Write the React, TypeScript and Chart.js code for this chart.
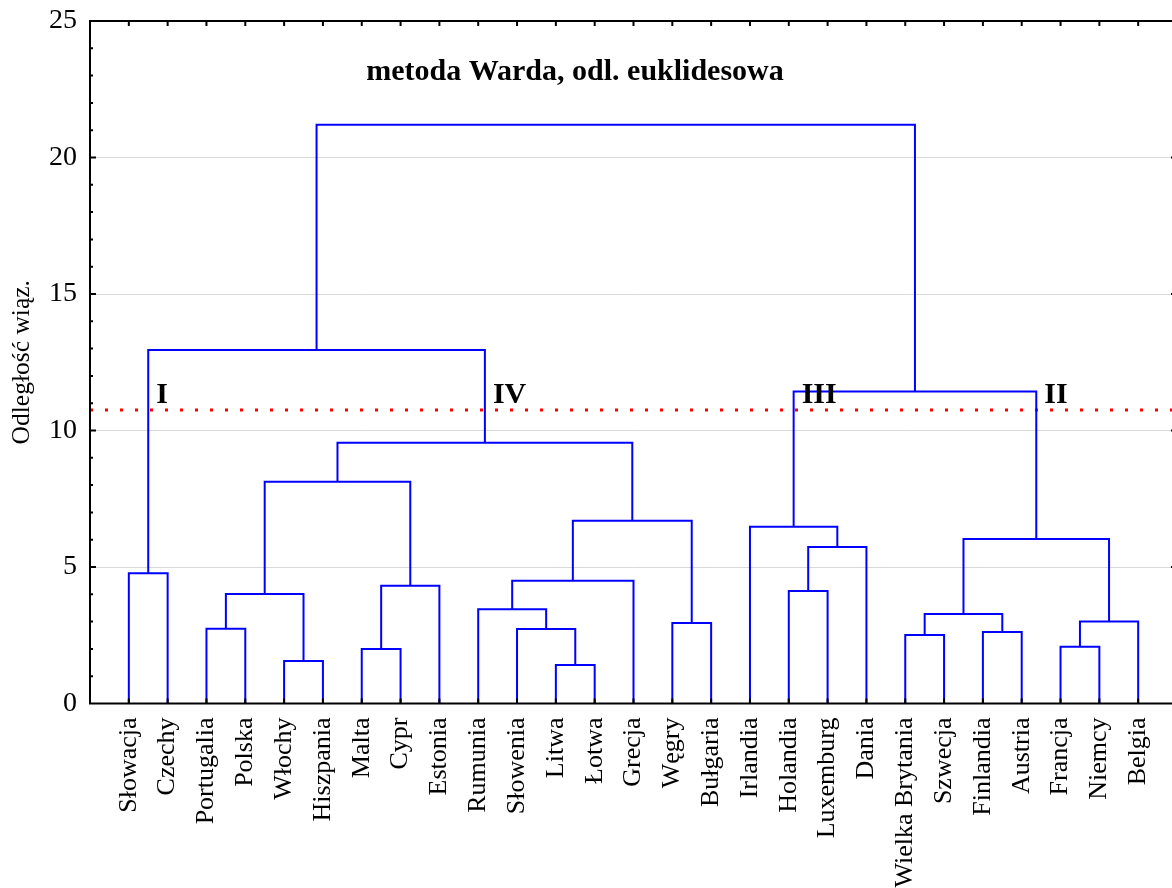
import { useEffect, useRef } from "react";
import { Chart, registerables } from "chart.js";

Chart.register(...registerables);

// Countries in dendrogram leaf order (left to right)
const countries = [
  "Słowacja", "Czechy", "Portugalia", "Polska", "Włochy", "Hiszpania", "Malta",
  "Cypr", "Estonia", "Rumunia", "Słowenia", "Litwa", "Łotwa", "Grecja", "Węgry",
  "Bułgaria", "Irlandia", "Holandia", "Luxemburg", "Dania", "Wielka Brytania",
  "Szwecja", "Finlandia", "Austria", "Francja", "Niemcy", "Belgia",
];

// Agglomeration steps: node ids < 27 are countries, step k creates node 27 + k
const joinLeft = [11, 4, 6, 24, 20, 22, 2, 10, 14, 30, 31, 9, 33, 17, 29, 38, 0, 40, 37, 16, 42, 39, 48, 46, 43, 51];
const joinRight = [12, 5, 7, 25, 21, 23, 3, 27, 15, 26, 32, 34, 28, 18, 8, 13, 1, 19, 36, 44, 35, 41, 47, 45, 49, 50];
const joinHeight = [
  1.41, 1.56, 2.0, 2.08, 2.51, 2.62, 2.74, 2.73, 2.95, 3.0, 3.28, 3.45, 4.01,
  4.12, 4.31, 4.5, 4.77, 5.73, 6.03, 6.47, 6.69, 8.12, 9.55, 11.43, 12.95, 21.2,
];

// Cut-off distance and the clusters it produces (root node of each)
const cutHeight = 10.75;
const clusterNames = ["I", "IV", "III", "II"];
const clusterRoots = [43, 49, 46, 45];

const yTicks = [0, 5, 10, 15, 20, 25];

const serif = '"Liberation Serif", "Times New Roman", Times, serif';

// Node positions derived from the tree
const nodeX: number[] = countries.map((_, i) => i);
const nodeY: number[] = countries.map(() => 0);
joinLeft.forEach((l, k) => {
  const r = joinRight[k];
  nodeX.push((nodeX[l] + nodeX[r]) / 2);
  nodeY.push(joinHeight[k]);
});

const linkSets = joinLeft.map((l, k) => {
  const r = joinRight[k];
  const h = joinHeight[k];
  return {
    data: [
      { x: nodeX[l], y: nodeY[l] },
      { x: nodeX[l], y: h },
      { x: nodeX[r], y: h },
      { x: nodeX[r], y: nodeY[r] },
    ],
    borderColor: "#0000ff",
    borderWidth: 2,
    pointRadius: 0,
    fill: false,
  };
});

const cutSet = {
  data: [
    { x: -1, y: cutHeight },
    { x: 27, y: cutHeight },
  ],
  borderColor: "#ff0000",
  borderWidth: 3,
  borderDash: [3, 12],
  pointRadius: 0,
  fill: false,
};

const framePlugin = {
  id: "frame",
  afterDatasetsDraw(chart: any) {
    const { ctx, chartArea: a, scales } = chart;
    const x = scales.x;
    const y = scales.y;
    ctx.save();
    ctx.strokeStyle = "#000";
    ctx.lineWidth = 2;
    ctx.beginPath();
    for (let v = 1; v < 25; v++) {
      const py = y.getPixelForValue(v);
      const len = v % 5 === 0 ? 6 : 3;
      ctx.moveTo(a.left, py);
      ctx.lineTo(a.left + len, py);
      ctx.moveTo(a.right, py);
      ctx.lineTo(a.right - len, py);
    }
    countries.forEach((_, i) => {
      const px = x.getPixelForValue(i);
      ctx.moveTo(px, a.top);
      ctx.lineTo(px, a.top + 5);
      ctx.moveTo(px, a.bottom);
      ctx.lineTo(px, a.bottom - 5);
    });
    ctx.stroke();
    ctx.strokeRect(a.left, a.top, a.right - a.left, a.bottom - a.top);

    ctx.fillStyle = "#000";
    ctx.textBaseline = "alphabetic";
    ctx.textAlign = "center";
    ctx.font = `bold 30px ${serif}`;
    ctx.fillText("metoda Warda, odl. euklidesowa", 575, 80);

    ctx.textAlign = "left";
    ctx.font = `bold 30px ${serif}`;
    clusterNames.forEach((name, i) => {
      const px = x.getPixelForValue(nodeX[clusterRoots[i]]);
      ctx.fillText(name, px + 8, 403);
    });
    ctx.restore();
  },
};

export default function App() {
  const ref = useRef<HTMLCanvasElement | null>(null);

  useEffect(() => {
    if (!ref.current) return;
    const chart = new Chart(ref.current, {
      type: "line",
      data: { datasets: [...linkSets, cutSet] as any },
      options: {
        responsive: false,
        animation: false,
        parsing: false,
        layout: { padding: { top: 21, right: 3, left: 0, bottom: 0 } },
        plugins: {
          legend: { display: false },
          tooltip: { enabled: false },
        },
        elements: { line: { tension: 0 } },
        scales: {
          x: {
            type: "linear",
            min: -1,
            max: 27,
            grid: { display: false, drawTicks: false },
            border: { display: false },
            afterBuildTicks: (s: any) => {
              s.ticks = countries.map((_, i) => ({ value: i }));
            },
            afterFit: (s: any) => {
              s.height = 184.5;
              s.paddingLeft = 0;
              s.paddingRight = 0;
            },
            ticks: {
              autoSkip: false,
              maxRotation: 90,
              minRotation: 90,
              padding: 14,
              color: "#000",
              font: { family: serif, size: 26 },
              callback: (v: any) => countries[v] ?? "",
            },
          },
          y: {
            type: "linear",
            min: 0,
            max: 25,
            afterBuildTicks: (s: any) => {
              s.ticks = yTicks.map((v) => ({ value: v }));
            },
            afterFit: (s: any) => {
              s.width = 90;
              s.paddingTop = 0;
              s.paddingBottom = 0;
            },
            grid: { color: "#d9d9d9", drawTicks: false, lineWidth: 1 },
            border: { display: false },
            ticks: {
              padding: 13,
              color: "#000",
              font: { family: serif, size: 28 },
            },
            title: {
              display: true,
              text: "Odległość wiąz.",
              color: "#000",
              font: { family: serif, size: 25.5 },
              padding: { top: 7, bottom: 0 },
            },
          },
        },
      } as any,
      plugins: [framePlugin],
    });
    return () => chart.destroy();
  }, []);

  return (
    <div style={{ position: "fixed", left: 0, top: 0, width: 1172, height: 888, overflow: "hidden", background: "#fff" }}>
      <canvas ref={ref} width={1180} height={888} />
    </div>
  );
}
